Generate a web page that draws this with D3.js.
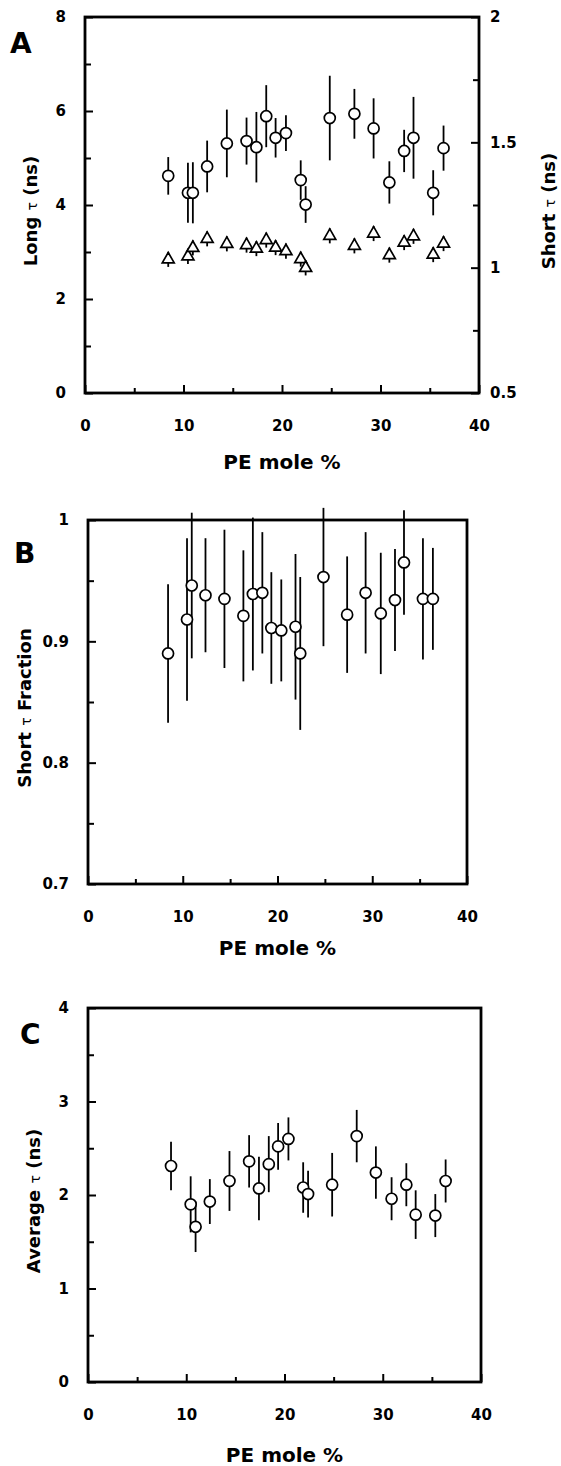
<!DOCTYPE html>
<html>
<head>
<meta charset="utf-8">
<script src="https://cdn.jsdelivr.net/npm/d3@7"></script>
<style>
  body { margin: 0; background: #fff; }
  text { font-family: "DejaVu Sans", sans-serif; font-weight: bold; fill: #000; }
</style>
</head>
<body>
<svg id="fig" width="561" height="1466"></svg>
<script>
// PE mole % of each sample (same samples in all three panels)
const peMole = [8.45, 10.45, 10.95, 12.4, 14.4, 16.4, 17.4, 18.4, 19.35, 20.4,
                21.9, 22.4, 24.85, 27.35, 29.3, 30.9, 32.4, 33.35, 35.35, 36.4];

// panel A: long lifetime (left axis) and short lifetime (right axis), ns
const longTau    = [4.62, 4.26, 4.26, 4.82, 5.31, 5.36, 5.23, 5.89, 5.43, 5.53,
                    4.53, 4.01, 5.85, 5.94, 5.63, 4.48, 5.15, 5.43, 4.26, 5.21];
const longTauErr = [0.40, 0.64, 0.65, 0.55, 0.72, 0.50, 0.75, 0.66, 0.42, 0.38,
                    0.42, 0.39, 0.90, 0.53, 0.64, 0.45, 0.45, 0.87, 0.48, 0.48];
const shortTau    = [1.033, 1.045, 1.079, 1.115, 1.095, 1.090, 1.076, 1.110, 1.080, 1.066,
                     1.034, 0.999, 1.127, 1.087, 1.136, 1.050, 1.100, 1.125, 1.052, 1.096];
const shortTauErr = [0.03, 0.03, 0.03, 0.03, 0.03, 0.03, 0.03, 0.03, 0.03, 0.03,
                     0.03, 0.03, 0.03, 0.03, 0.03, 0.03, 0.03, 0.03, 0.03, 0.03];

// panel B: short lifetime fraction
const shortFrac    = [0.890, 0.918, 0.946, 0.938, 0.935, 0.921, 0.939, 0.940, 0.911, 0.909,
                      0.912, 0.890, 0.953, 0.922, 0.940, 0.923, 0.934, 0.965, 0.935, 0.935];
const shortFracErr = [0.057, 0.067, 0.060, 0.047, 0.057, 0.054, 0.063, 0.050, 0.046, 0.042,
                      0.060, 0.063, 0.057, 0.048, 0.050, 0.050, 0.042, 0.043, 0.050, 0.042];

// panel C: average lifetime, ns
const avgTau    = [2.31, 1.90, 1.66, 1.93, 2.15, 2.36, 2.07, 2.33, 2.52, 2.60,
                   2.08, 2.01, 2.11, 2.63, 2.24, 1.96, 2.11, 1.79, 1.78, 2.15];
const avgTauErr = [0.26, 0.30, 0.27, 0.24, 0.32, 0.28, 0.34, 0.30, 0.25, 0.23,
                   0.27, 0.25, 0.34, 0.28, 0.28, 0.23, 0.23, 0.26, 0.23, 0.23];

// ticks
const xMajor = [0, 10, 20, 30, 40], xMinor = [5, 15, 25, 35];
const longMajor = [0, 2, 4, 6, 8], longMinor = [1, 3, 5, 7];
const shortMajor = [0.5, 1, 1.5, 2], shortMinor = [0.75, 1.25, 1.75];
const fracMajor = [0.7, 0.8, 0.9, 1], fracMinor = [0.75, 0.85, 0.95];
const avgMajor = [0, 1, 2, 3, 4], avgMinor = [0.5, 1.5, 2.5, 3.5];

const svg = d3.select("#fig");
const fmt = d3.format("~g");

//------------------------------helpers-------------------------------------
function styleAxis(sel) {
  sel.select(".domain").remove();
  sel.selectAll(".tick line").attr("stroke", "#000").attr("stroke-width", 2);
  sel.selectAll(".tick text").attr("font-size", 15).attr("font-family", null);
  sel.attr("font-family", null).attr("font-size", null);
}

function tauTitle(g, x, y, before, after) {
  const t = g.append("text")
    .attr("transform", `translate(${x},${y}) rotate(-90)`)
    .attr("text-anchor", "middle")
    .attr("font-size", 18);
  t.append("tspan").text(before);
  t.append("tspan").text("τ").attr("font-size", 14).attr("font-weight", "normal");
  t.append("tspan").text(after);
}

function errBars(g, x, y, vals, errs) {
  g.append("g").selectAll("line").data(vals).join("line")
    .attr("x1", (d, i) => x(peMole[i])).attr("x2", (d, i) => x(peMole[i]))
    .attr("y1", (d, i) => y(d - errs[i])).attr("y2", (d, i) => y(d + errs[i]))
    .attr("stroke", "#000").attr("stroke-width", 1.8);
}

function circles(g, x, y, vals) {
  g.append("g").selectAll("circle").data(vals).join("circle")
    .attr("cx", (d, i) => x(peMole[i])).attr("cy", d => y(d))
    .attr("r", 5.5).attr("fill", "#fff").attr("stroke", "#000").attr("stroke-width", 1.7);
}

function triangles(g, x, y, vals) {
  const sym = d3.symbol().type(d3.symbolTriangle).size(62);
  g.append("g").selectAll("path").data(vals).join("path")
    .attr("transform", (d, i) => `translate(${x(peMole[i])},${y(d)})`)
    .attr("d", sym).attr("fill", "#fff").attr("stroke", "#000").attr("stroke-width", 1.7);
}

//------------------------------panels-------------------------------------
function panel(p) {
  const g = svg.append("g");
  const x = d3.scaleLinear().domain([0, 40]).range([p.left, p.right]);
  const y = d3.scaleLinear().domain(p.yDomain).range([p.bottom, p.top]);

  // ticks point into the box
  g.append("g").attr("transform", `translate(0,${p.bottom})`)
    .call(d3.axisBottom(x).tickValues(xMajor).tickSize(-8).tickPadding(27).tickFormat(fmt))
    .call(styleAxis);
  g.append("g").attr("transform", `translate(0,${p.bottom})`)
    .call(d3.axisBottom(x).tickValues(xMinor).tickSize(-5).tickFormat(""))
    .call(styleAxis);
  g.append("g").attr("transform", `translate(${p.left},0)`)
    .call(d3.axisLeft(y).tickValues(p.yMajor).tickSize(-8).tickPadding(19).tickFormat(fmt))
    .call(styleAxis);
  g.append("g").attr("transform", `translate(${p.left},0)`)
    .call(d3.axisLeft(y).tickValues(p.yMinor).tickSize(-6).tickFormat(""))
    .call(styleAxis);

  g.append("rect")
    .attr("x", p.left).attr("y", p.top)
    .attr("width", p.right - p.left).attr("height", p.bottom - p.top)
    .attr("fill", "none").attr("stroke", "#000").attr("stroke-width", 2.8);

  g.append("text").text(p.letter)
    .attr("x", p.letterX).attr("y", p.letterY).attr("font-size", 28);

  g.append("text").text("PE mole %")
    .attr("x", (p.left + p.right) / 2).attr("y", p.titleY)
    .attr("text-anchor", "middle").attr("font-size", 20);

  tauTitle(g, p.yTitleX, (p.top + p.bottom) / 2 + 6, p.yTitle[0], p.yTitle[1]);

  return { g, x, y };
}

// A
const pA = panel({ left: 85, right: 479, top: 17, bottom: 393, yDomain: [0, 8],
  yMajor: longMajor, yMinor: longMinor, letter: "A", letterX: 10, letterY: 53,
  titleY: 469, yTitleX: 37, yTitle: ["Long ", " (ns)"] });
const yShort = d3.scaleLinear().domain([0.5, 2]).range([393, 17]);
pA.g.append("g").attr("transform", "translate(479,0)")
  .call(d3.axisRight(yShort).tickValues(shortMajor).tickSize(-8).tickPadding(11).tickFormat(fmt))
  .call(styleAxis);
pA.g.append("g").attr("transform", "translate(479,0)")
  .call(d3.axisRight(yShort).tickValues(shortMinor).tickSize(-6).tickFormat(""))
  .call(styleAxis);
tauTitle(pA.g, 555, 211, "Short ", " (ns)");
errBars(pA.g, pA.x, pA.y, longTau, longTauErr);
errBars(pA.g, pA.x, yShort, shortTau, shortTauErr);
triangles(pA.g, pA.x, yShort, shortTau);
circles(pA.g, pA.x, pA.y, longTau);

// B
const pB = panel({ left: 88, right: 467, top: 520, bottom: 884, yDomain: [0.7, 1],
  yMajor: fracMajor, yMinor: fracMinor, letter: "B", letterX: 14, letterY: 563,
  titleY: 955, yTitleX: 31, yTitle: ["Short ", " Fraction"] });
errBars(pB.g, pB.x, pB.y, shortFrac, shortFracErr);
circles(pB.g, pB.x, pB.y, shortFrac);

// C
const pC = panel({ left: 88, right: 481, top: 1008, bottom: 1382, yDomain: [0, 4],
  yMajor: avgMajor, yMinor: avgMinor, letter: "C", letterX: 20, letterY: 1044,
  titleY: 1462, yTitleX: 40, yTitle: ["Average ", " (ns)"] });
errBars(pC.g, pC.x, pC.y, avgTau, avgTauErr);
circles(pC.g, pC.x, pC.y, avgTau);
</script>
</body>
</html>
